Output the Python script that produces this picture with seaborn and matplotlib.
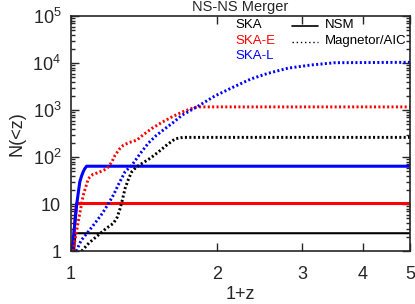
#!/usr/bin/env python3
"""Cumulative NS-NS merger counts vs redshift for SKA surveys."""
import matplotlib
matplotlib.use("Agg")
import matplotlib.pyplot as plt
import matplotlib.ticker as mticker
import seaborn as sns

sns.set_style("ticks")
plt.rcParams["font.family"] = ["Liberation Sans", "DejaVu Sans"]
plt.rcParams["mathtext.default"] = "regular"

# NSM (solid) curves: 1+z and N(<z)
ska_nsm_z = [1.015, 1.019, 1.021, 5.0]
ska_nsm_n = [1.0, 1.8, 2.4, 2.4]
skae_nsm_z = [1.008, 1.014, 1.02, 1.027, 5.0]
skae_nsm_n = [1.0, 2.2, 5.0, 10.3, 10.3]
skal_nsm_z = [1.006, 1.012, 1.02, 1.027, 1.035, 1.043, 1.052, 1.06, 1.068, 1.077, 5.0]
skal_nsm_n = [1.0, 2.0, 4.5, 9.5, 17.0, 30.0, 40.0, 49.0, 57.0, 64.0, 64.0]

# Magnetor/AIC (dotted) curves
ska_mag_z = [1.052, 1.09, 1.139, 1.18, 1.223, 1.245, 1.263, 1.278, 1.293, 1.315, 1.335,
             1.365, 1.40, 1.46, 1.516, 1.58, 1.64, 1.70, 5.0]
ska_mag_n = [1.0, 1.5, 2.2, 3.0, 3.9, 5.2, 8.1, 13.0, 21.6, 35.0, 49.0,
             62.0, 73.0, 96.0, 130.0, 185.0, 245.0, 263.0, 263.0]
skae_mag_z = [1.01, 1.02, 1.035, 1.06, 1.086, 1.11, 1.139, 1.17, 1.195, 1.215, 1.233,
              1.26, 1.283, 1.32, 1.367, 1.41, 1.468, 1.54, 1.616, 1.70, 1.777, 1.82, 5.0]
skae_mag_n = [1.0, 1.8, 4.2, 15.5, 35.0, 43.0, 47.0, 53.0, 62.0, 80.0, 110.0,
              150.0, 180.0, 205.0, 230.0, 300.0, 407.0, 550.0, 720.0, 920.0, 1090.0, 1170.0, 1170.0]
skal_mag_z = [1.025, 1.05, 1.086, 1.12, 1.16, 1.195, 1.225, 1.25, 1.293, 1.335, 1.39,
              1.445, 1.50, 1.565, 1.63, 1.694, 1.82, 1.98, 2.17, 2.35, 2.54, 2.8, 3.12, 3.5, 5.0]
skal_mag_n = [1.0, 1.7, 2.6, 3.9, 6.3, 10.3, 16.0, 25.0, 49.0, 67.0, 120.0,
              200.0, 290.0, 407.0, 560.0, 780.0, 1180.0, 2000.0, 3150.0, 4600.0, 6000.0, 7800.0, 9100.0, 10200.0, 10400.0]

y_ticks = [1, 10, 100, 1000, 10000, 100000]
y_labels = ["1", "10", "10$^2$", "10$^3$", "10$^4$", "10$^5$"]
x_ticks = [1, 2, 3, 4, 5]
x_labels = ["1", "2", "3", "4", "5"]


def main():
    fig = plt.figure(figsize=(4.15, 3.04), dpi=100)
    ax = fig.add_axes([0.171, 0.174, 0.817, 0.773])

    sns.lineplot(x=ska_nsm_z, y=ska_nsm_n, ax=ax, color="black", lw=1.5, sort=False, estimator=None)
    sns.lineplot(x=skae_nsm_z, y=skae_nsm_n, ax=ax, color="red", lw=2.2, sort=False, estimator=None)
    sns.lineplot(x=skal_nsm_z, y=skal_nsm_n, ax=ax, color="blue", lw=2.2, sort=False, estimator=None)
    for z, n, c in [(ska_mag_z, ska_mag_n, "black"),
                    (skae_mag_z, skae_mag_n, "red"),
                    (skal_mag_z, skal_mag_n, "blue")]:
        sns.lineplot(x=z, y=n, ax=ax, color=c, lw=2.1, ls=(0, (0.7, 0.8)),
                     sort=False, estimator=None)

    ax.set_xscale("log")
    ax.set_yscale("log")
    ax.set_xlim(1, 5)
    ax.set_ylim(1, 1e5)
    ax.xaxis.set_major_locator(mticker.FixedLocator(x_ticks))
    ax.xaxis.set_major_formatter(mticker.FixedFormatter(x_labels))
    ax.xaxis.set_minor_locator(mticker.NullLocator())
    ax.yaxis.set_major_locator(mticker.FixedLocator(y_ticks))
    ax.yaxis.set_major_formatter(mticker.FixedFormatter(y_labels))
    ax.yaxis.set_minor_locator(mticker.LogLocator(base=10, subs=range(2, 10)))
    ax.yaxis.set_minor_formatter(mticker.NullFormatter())
    ax.tick_params(which="both", direction="in", top=True, right=True, width=1)
    ax.tick_params(which="major", length=6, labelsize=13)
    ax.tick_params(axis="x", which="major", pad=11)
    ax.tick_params(axis="y", which="major", pad=7)
    ax.tick_params(which="minor", length=3)
    for s in ax.spines.values():
        s.set_linewidth(1.2)

    ax.set_xlabel("1+z", fontsize=13, labelpad=2)
    ax.set_ylabel("N(<z)", fontsize=13, labelpad=5)
    ax.set_title("NS-NS Merger", fontsize=10.5, pad=4)

    # legend made of text labels and short line samples
    fs = 9.5
    ax.text(0.485, 0.962, "SKA", color="black", fontsize=fs, va="center", transform=ax.transAxes)
    ax.text(0.485, 0.895, "SKA-E", color="red", fontsize=fs, va="center", transform=ax.transAxes)
    ax.text(0.485, 0.83, "SKA-L", color="blue", fontsize=fs, va="center", transform=ax.transAxes)
    ax.plot([0.652, 0.73], [0.958, 0.958], color="black", lw=1.2, transform=ax.transAxes)
    ax.plot([0.652, 0.73], [0.89, 0.89], color="black", lw=1.0, ls=(0, (1, 2)), transform=ax.transAxes)
    ax.text(0.748, 0.962, "NSM", color="black", fontsize=fs, va="center", transform=ax.transAxes)
    ax.text(0.748, 0.895, "Magnetor/AIC", color="black", fontsize=fs, va="center", transform=ax.transAxes)

    fig.savefig("out.png", dpi=100)


if __name__ == "__main__":
    main()
